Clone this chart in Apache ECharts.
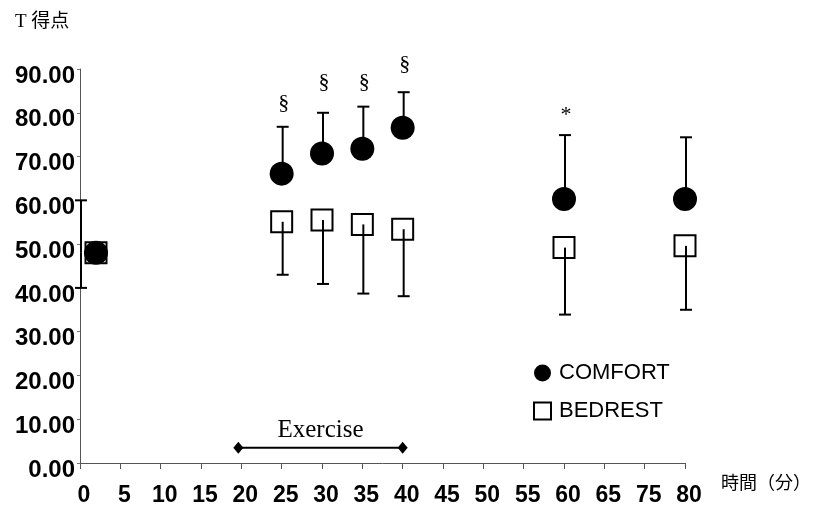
<!DOCTYPE html>
<html>
<head>
<meta charset="utf-8">
<script src="https://cdn.jsdelivr.net/npm/echarts@6/dist/echarts.min.js"></script>
<style>html,body{margin:0;padding:0;background:#fff}#c{width:814px;height:512px}</style>
</head>
<body>
<div id="c"></div>
<script>
const categories = ['0','5','10','15','20','25','30','35','40','45','50','55','60','65','75','80'];
const comfortMean  = [48, null, null, null, null, 66.1, 70.7, 71.8, 76.6, null, null, null, 60.3, null, null, 60.3];
const comfortUpper = [60, null, null, null, null, 76.8, 80.0, 81.4, 84.7, null, null, null, 74.9, null, null, 74.4];
const bedrestMean  = [48, null, null, null, null, 55.1, 55.5, 54.5, 53.4, null, null, null, 49.2, null, null, 49.6];
const bedrestLower = [40, null, null, null, null, 43.0, 40.9, 38.7, 38.1, null, null, null, 33.9, null, null, 35.0];
const yTicks = [0, 10, 20, 30, 40, 50, 60, 70, 80, 90];
const annotationCats   = ['25', '30', '35', '40', '60'];
const annotationTexts  = ['§', '§', '§', '§', '*'];
const annotationValues = [82.2, 86.9, 86.9, 91.1, 79.5];
const exerciseStart = '20';
const exerciseEnd = '40';
const exerciseLevel = 3.5;
const exerciseText = 'Exercise';

const chart = echarts.init(document.getElementById('c'), null, {renderer: 'canvas'});

function scatterData(arr) {
  const out = [];
  arr.forEach((v, i) => {
    if (v == null) return;
    const item = {value: [i, v]};
    if (i === 0) item.symbolOffset = [16, 0];
    out.push(item);
  });
  return out;
}
function barData(means, ends) {
  const out = [];
  means.forEach((m, i) => { if (m != null) out.push([i, m, ends[i]]); });
  return out;
}
function errorRender(params, api) {
  const p1 = api.coord([api.value(0), api.value(1)]);
  const p2 = api.coord([api.value(0), api.value(2)]);
  const st = {stroke: '#000', lineWidth: 2};
  return {
    type: 'group',
    children: [
      {type: 'line', shape: {x1: p1[0] + 1, y1: p1[1], x2: p2[0] + 1, y2: p2[1]}, style: st},
      {type: 'line', shape: {x1: p2[0] - 5, y1: p2[1], x2: p2[0] + 7, y2: p2[1]}, style: st}
    ]
  };
}

const annData = annotationCats.map((c, i) => [categories.indexOf(c), annotationValues[i], annotationTexts[i]]);

chart.setOption({
  animation: false,
  backgroundColor: '#fff',
  title: {
    text: 'T 得点', left: 10, top: 8,
    textStyle: {fontSize: 19, fontWeight: 'normal', color: '#000', fontFamily: '"Liberation Serif", "Noto Sans CJK JP", serif'}
  },
  legend: {
    data: ['COMFORT', 'BEDREST'],
    orient: 'vertical', left: 528, top: 357,
    itemWidth: 17, itemHeight: 17, itemGap: 16,
    textStyle: {fontSize: 22, color: '#000', fontFamily: '"Liberation Sans", Arial, sans-serif', padding: [0, 0, 0, 3]}
  },
  grid: {left: 80, right: 128, top: 69, bottom: 49},
  xAxis: {
    type: 'category', data: categories, boundaryGap: false,
    axisLine: {lineStyle: {color: '#555', width: 1}},
    axisTick: {show: true, length: 6, lineStyle: {color: '#555'}},
    axisLabel: {
      interval: 0, margin: 21, fontSize: 23, fontWeight: 'bold', color: '#000',
      fontFamily: '"Liberation Sans", Arial, sans-serif',
      padding: [0, 0, 0, 8]
    },
    name: '時間（分）', nameLocation: 'end', nameGap: 36,
    nameTextStyle: {fontSize: 18, color: '#000', fontFamily: '"Noto Sans CJK JP", sans-serif', align: 'left', verticalAlign: 'top', padding: [10, 0, 0, 0]}
  },
  yAxis: {
    type: 'value', min: yTicks[0], max: yTicks[yTicks.length - 1], interval: 10,
    splitLine: {show: false},
    axisLine: {show: true, lineStyle: {color: '#555', width: 1}},
    axisTick: {show: true, length: 3, lineStyle: {color: '#777'}},
    axisLabel: {
      formatter: v => v.toFixed(2), margin: 5, fontSize: 24, fontWeight: 'bold', color: '#000',
      fontFamily: '"Liberation Sans", Arial, sans-serif', verticalAlign: 'top', lineHeight: 14
    }
  },
  series: [
    {
      name: 'COMFORT', type: 'scatter', z: 4,
      symbol: 'circle', symbolSize: 24,
      itemStyle: {color: '#000', opacity: 1},
      data: scatterData(comfortMean)
    },
    {
      name: 'BEDREST', type: 'scatter', z: 3,
      symbol: 'rect', symbolSize: 21,
      itemStyle: {color: '#fff', borderColor: '#000', borderWidth: 2, opacity: 1},
      data: scatterData(bedrestMean)
    },
    {
      type: 'custom', z: 5, renderItem: errorRender,
      encode: {x: 0, y: [1, 2]}, data: barData(comfortMean, comfortUpper), silent: true
    },
    {
      type: 'custom', z: 5, renderItem: errorRender,
      encode: {x: 0, y: [1, 2]}, data: barData(bedrestMean, bedrestLower), silent: true
    },
    {
      type: 'custom', z: 6, silent: true,
      encode: {x: 0, y: 1},
      data: annData,
      renderItem: (params, api) => {
        const p = api.coord([api.value(0), api.value(1)]);
        return {
          type: 'text', x: p[0] + 2, y: p[1],
          style: {text: annData[params.dataIndex][2], font: '22px "Liberation Serif", serif', fill: '#000', align: 'center', verticalAlign: 'middle'}
        };
      }
    },
    {
      type: 'custom', z: 6, silent: true,
      encode: {x: 0, y: 1},
      data: [[categories.indexOf(exerciseStart), exerciseLevel, categories.indexOf(exerciseEnd)]],
      renderItem: (params, api) => {
        const a = api.coord([api.value(0), api.value(1)]);
        const b = api.coord([api.value(2), api.value(1)]);
        const x1 = a[0] - 3, x2 = b[0], y = a[1];
        const dia = (cx) => ({type: 'polygon', shape: {points: [[cx, y - 6], [cx + 5, y], [cx, y + 6], [cx - 5, y]]}, style: {fill: '#000'}});
        return {
          type: 'group',
          children: [
            {type: 'line', shape: {x1: x1, y1: y, x2: x2, y2: y}, style: {stroke: '#000', lineWidth: 2}},
            dia(x1), dia(x2),
            {type: 'text', x: (x1 + x2) / 2, y: y - 17, style: {text: exerciseText, font: '25px "Liberation Serif", serif', fill: '#000', align: 'center', verticalAlign: 'middle'}}
          ]
        };
      }
    }
  ]
});
</script>
</body>
</html>
